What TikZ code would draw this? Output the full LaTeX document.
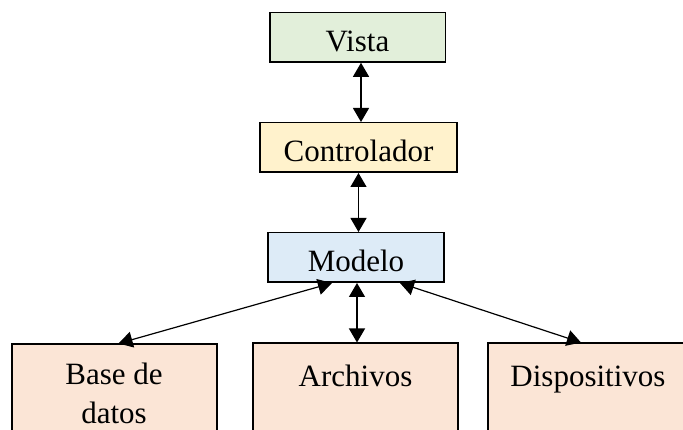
\documentclass[tikz,border=0pt]{standalone}
\usepackage{fontspec}
\setmainfont{Liberation Serif}
\usetikzlibrary{arrows.meta,calc}
\definecolor{vistaG}{HTML}{E2EFDA}
\definecolor{ctrlY}{HTML}{FFF2CC}
\definecolor{modB}{HTML}{DDEBF7}
\definecolor{botO}{HTML}{FBE5D6}
\begin{document}
\begin{tikzpicture}[x=1pt,y=-1pt,
  box/.style={draw=black, line width=1.5pt, inner sep=0pt, text height=29pt, text depth=0pt, minimum height=49.5pt, font=\fontsize{31}{39}\selectfont},
  bbox/.style={draw=black, line width=1.5pt, fill=botO, minimum width=205pt, minimum height=120pt, anchor=north},
  txt/.style={font=\fontsize{31}{39}\selectfont, align=center, anchor=base, inner sep=0pt},
  arr/.style={{Triangle[length=14pt,width=16pt]}-{Triangle[length=14pt,width=16pt]}, line width=1.2pt}]
\clip (0,0) rectangle (683,430);
\node[box, fill=vistaG, minimum width=175.5pt] (v) at (357.5,37.3) {Vista};
\node[box, fill=ctrlY, minimum width=197pt] (c) at (358.5,147.5) {Controlador};
\node[box, fill=modB, minimum width=176pt] (m) at (356,257.5) {Modelo};
\node[bbox] (bd) at (114.5,343.5) {};
\node[bbox] (ar) at (355.5,342.5) {};
\node[bbox] (dp) at (590.5,342.5) {};
\node[txt] (bdt) at (114,423) {Base de\\datos};
\node[txt] (art) at (355.5,387) {Archivos};
\node[txt] (dpt) at (588,387) {Dispositivos};
\draw[arr] ([xshift=3.5pt]v.south) -- ([xshift=3.5pt]v.south |- c.north);
\draw[arr] (c.south) -- (c.south |- m.north);
\draw[arr] ([xshift=-24pt]m.south) -- ([xshift=4pt]bd.north);
\draw[arr] ([xshift=1pt]m.south) -- ([xshift=1pt]m.south |- ar.north);
\draw[arr] ([xshift=44pt]m.south) -- ([xshift=-9.5pt]dp.north);
\end{tikzpicture}
\end{document}
